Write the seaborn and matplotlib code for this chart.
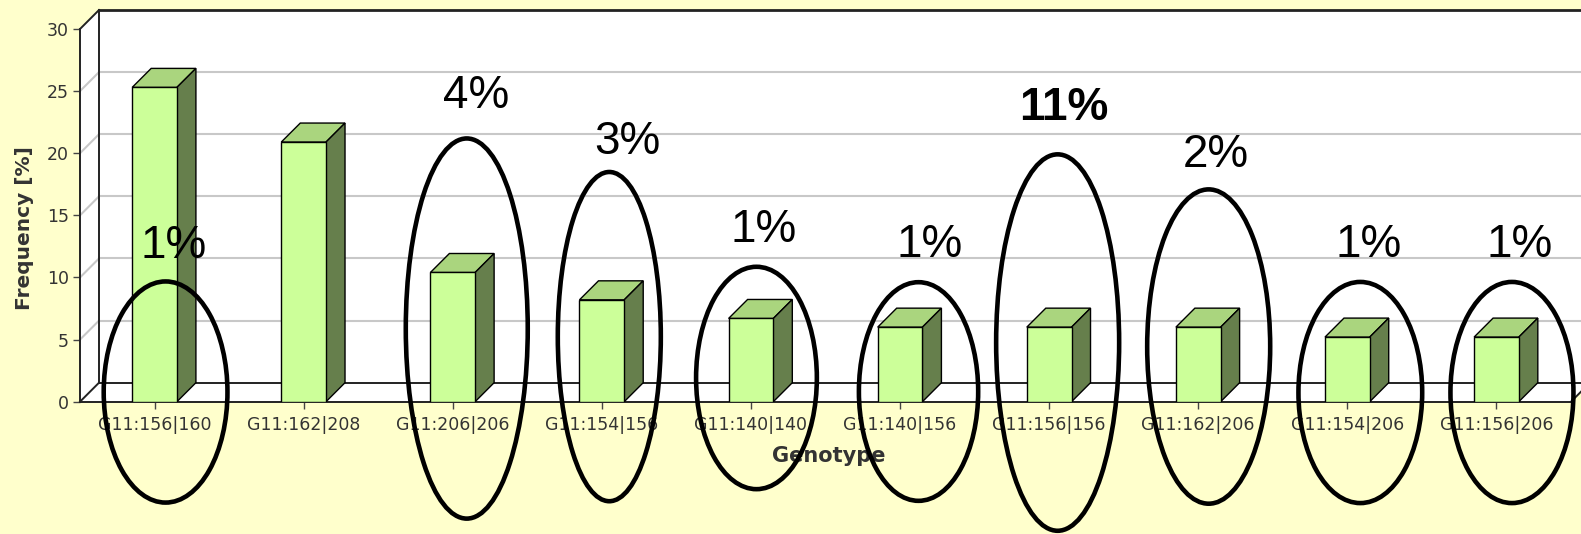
import matplotlib
matplotlib.use("Agg")
import matplotlib.pyplot as plt
from matplotlib.patches import Polygon, Ellipse
from matplotlib.transforms import IdentityTransform
import seaborn as sns
import pandas as pd

# Genotype frequencies
genotypes = ["G11:156|160", "G11:162|208", "G11:206|206", "G11:154|156", "G11:140|140",
             "G11:140|156", "G11:156|156", "G11:162|206", "G11:154|206", "G11:156|206"]
frequency = [25.3, 20.9, 10.4, 8.2, 6.7, 6.0, 6.0, 6.0, 5.2, 5.2]
y_ticks = [0, 5, 10, 15, 20, 25, 30]

# Circled genotypes and the share written above each circle
note_index = [0, 2, 3, 4, 5, 6, 7, 8, 9]
note_text = ["1%", "4%", "3%", "1%", "1%", "11%", "2%", "1%", "1%"]
note_bold = [False, False, False, False, False, True, False, False, False]

# Layout of the hand-drawn circles and their texts (data units)
circle_dx = [0.074, 0.094, 0.05, 0.037, 0.124, 0.057, 0.07, 0.087, 0.104]
circle_cy = [0.78, 5.89, 5.24, 1.91, 0.82, 4.76, 4.44, 0.74, 0.74]
circle_w = [0.83, 0.818, 0.691, 0.81, 0.80, 0.825, 0.825, 0.83, 0.825]
circle_h = [17.8, 30.6, 26.5, 17.9, 17.6, 30.3, 25.3, 17.8, 17.8]
text_dx = [0.127, 0.154, 0.168, 0.087, 0.2, 0.1, 0.12, 0.14, 0.154]
text_y = [11.55, 23.68, 19.9, 12.85, 11.64, 22.66, 18.88, 11.64, 11.64]

BG = "#FFFFCC"
FRONT = "#CCFF99"
TOP = "#AAD57E"
SIDE = "#667F4C"
GRID = "#C8C8C8"
EDGE = "#222222"
DEPTH = 19  # 3D offset in pixels

W, H = 1581, 534
fig = plt.figure(figsize=(W / 100, H / 100), dpi=100, facecolor=BG)
ax = fig.add_axes([80 / W, (H - 401.7) / H, 1491 / W, 372.7 / H])
ax.set_facecolor("white")

df = pd.DataFrame({"Genotype": genotypes, "Frequency": frequency})
sns.barplot(data=df, x="Genotype", y="Frequency", ax=ax, width=0.3, color=FRONT,
            saturation=1, edgecolor="black", linewidth=1.0, zorder=5)
bars = list(ax.patches)

ax.set_xlim(-0.5, len(genotypes) - 0.5)
ax.set_ylim(0, 30)
ax.set_yticks(y_ticks)

def disp(x, y):
    return ax.transData.transform((x, y))

ident = IdentityTransform()

def poly(pts, **kw):
    p = Polygon(pts, closed=True, transform=ident, clip_on=False, **kw)
    ax.add_patch(p)
    return p

xl, y0 = disp(-0.5, 0)
xr, y30 = disp(len(genotypes) - 0.5, 30)
d = DEPTH
far = W + 60

# back wall, left wall and floor
poly([(xl + d, y0 + d), (far, y0 + d), (far, y30 + d), (xl + d, y30 + d)],
     facecolor="white", edgecolor="none", zorder=0.5)
poly([(xl, y0), (xl, y30), (xl + d, y30 + d), (xl + d, y0 + d)],
     facecolor="white", edgecolor="none", zorder=0.5)

for v in y_ticks[1:-1]:
    _, yv = disp(0, v)
    ax.plot([xl + d, far], [yv + d, yv + d], transform=ident, color=GRID, lw=1.5,
            clip_on=False, zorder=0.6)
    ax.plot([xl, xl + d], [yv, yv + d], transform=ident, color=GRID, lw=1.5,
            clip_on=False, zorder=0.6)

poly([(xl, y0), (xr, y0), (xr + d, y0 + d), (xl + d, y0 + d)],
     facecolor="white", edgecolor="none", zorder=0.7)

# wall and floor edges
edge_kw = dict(transform=ident, color=EDGE, lw=1.4, clip_on=False, zorder=0.8)
ax.plot([xl + d, far], [y30 + d, y30 + d], **{**edge_kw, "lw": 2.0})
ax.plot([xl, xl + d], [y30, y30 + d], **edge_kw)
ax.plot([xl + d, xl + d], [y30 + d, y0 + d], **edge_kw)
ax.plot([xl + d, xr + d], [y0 + d, y0 + d], **edge_kw)
ax.plot([xl, xl + d], [y0, y0 + d], **edge_kw)
ax.plot([xr, xr + d], [y0, y0 + d], **edge_kw)

# top and side faces of each bar
for b in bars:
    bx0, by0 = disp(b.get_x(), 0)
    bx1, by1 = disp(b.get_x() + b.get_width(), b.get_height())
    poly([(bx0, by1), (bx1, by1), (bx1 + d, by1 + d), (bx0 + d, by1 + d)],
         facecolor=TOP, edgecolor="black", lw=1.0, zorder=4)
    poly([(bx1, by0), (bx1, by1), (bx1 + d, by1 + d), (bx1 + d, by0 + d)],
         facecolor=SIDE, edgecolor="black", lw=1.0, zorder=4)

# circles and percentage notes
for i, idx in enumerate(note_index):
    e = Ellipse((idx + circle_dx[i], circle_cy[i]), circle_w[i], circle_h[i],
                fill=False, edgecolor="black", lw=3.3, clip_on=False, zorder=10)
    ax.add_patch(e)
    ax.text(idx + text_dx[i], text_y[i], note_text[i], ha="center", va="baseline",
            fontsize=33, family="Liberation Sans",
            fontweight="bold" if note_bold[i] else "normal",
            color="black", zorder=11, clip_on=False)

# axes styling
for s in ["top", "right"]:
    ax.spines[s].set_visible(False)
for s in ["left", "bottom"]:
    ax.spines[s].set_color(EDGE)
    ax.spines[s].set_linewidth(1.4)
ax.tick_params(axis="both", length=5, width=1, color="#444444", labelsize=12.5,
               labelcolor="#333333")
ax.tick_params(axis="x", pad=5)
ax.tick_params(axis="y", pad=3)
ax.set_xlabel("Genotype", fontsize=15, fontweight="bold", color="#333333")
ax.set_ylabel("Frequency [%]", fontsize=14.5, fontweight="bold", color="#333333")
ax.xaxis.set_label_coords(0.502, -0.12)
ax.yaxis.set_label_coords(-0.031, 0.466)

fig.savefig("out.png", dpi=100, facecolor=BG)
